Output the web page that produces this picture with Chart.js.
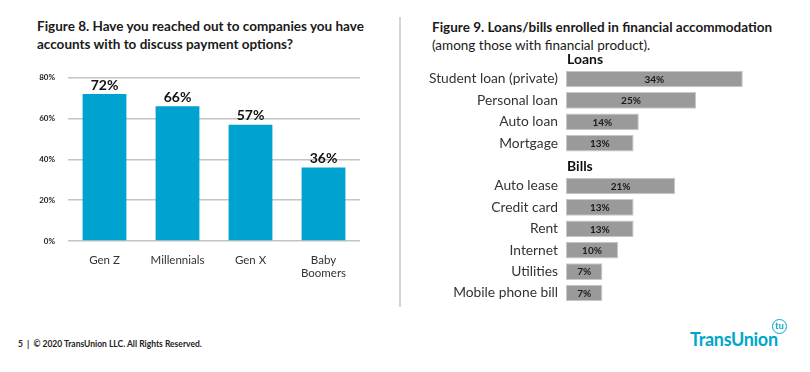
<!DOCTYPE html>
<html>
<head>
<meta charset="utf-8">
<script src="https://cdn.jsdelivr.net/npm/chart.js@4"></script>
<style>
  body { margin: 0; width: 810px; height: 372px; background: #fff; position: relative; overflow: hidden; font-family: Lato, sans-serif; color: #1a1a1a; }
  .title { position: absolute; font-weight: bold; font-size: 13.5px; line-height: 18px; }
  .sub { font-weight: normal; }
  #left-wrap { position: absolute; left: 0; top: 60px; width: 380px; height: 220px; }
  #right-wrap { position: absolute; left: 405px; top: 40px; width: 400px; height: 280px; }
  .divider { position: absolute; left: 399px; top: 17px; width: 2px; height: 290px; background: #d4d4d4; }
  .footer { position: absolute; left: 18px; top: 339px; font-size: 8.5px; font-weight: bold; color: #222; }
  .logo { position: absolute; left: 690px; top: 328px; font-size: 18px; font-weight: bold; color: #00a6ca; letter-spacing: -0.3px; }
  .tu { position: absolute; left: 772px; top: 319px; width: 13px; height: 13px; border: 1.5px solid #00a6ca; border-radius: 50%; font-size: 9px; font-weight: bold; color: #00a6ca; text-align: center; line-height: 12px; }
</style>
</head>
<body>
<div class="title" style="left:37px; top:17px;">Figure 8. Have you reached out to companies you have<br>accounts with to discuss payment options?</div>
<div class="title" style="left:432px; top:18px;">Figure 9. Loans/bills enrolled in financial accommodation<br><span class="sub">(among those with financial product).</span></div>
<div class="divider"></div>
<div id="left-wrap"><canvas id="genChart"></canvas></div>
<div id="right-wrap"><canvas id="accChart"></canvas></div>
<div class="footer">5 &nbsp;| &nbsp;© 2020 TransUnion LLC. All Rights Reserved.</div>
<div class="logo">TransUnion</div>
<div class="tu">tu</div>
<script>
// Figure 8 data
const genLabels = ['Gen Z', 'Millennials', 'Gen X', ['Baby', 'Boomers']];
const genValues = [72, 66, 57, 36];

// Figure 9 data
const loanLabels = ['Student loan (private)', 'Personal loan', 'Auto loan', 'Mortgage'];
const loanValues = [34, 25, 14, 13];
const billLabels = ['Auto lease', 'Credit card', 'Rent', 'Internet', 'Utilities', 'Mobile phone bill'];
const billValues = [21, 13, 13, 10, 7, 7];

const blue = '#00a3cf';
const gray = '#9a9a9a';

// draws the % value on each bar
const valueLabels = {
  id: 'valueLabels',
  afterDatasetsDraw(chart, args, opts) {
    const ctx = chart.ctx;
    const meta = chart.getDatasetMeta(0);
    ctx.save();
    ctx.fillStyle = opts.color;
    ctx.font = opts.font;
    ctx.textAlign = 'center';
    ctx.textBaseline = 'middle';
    meta.data.forEach((bar, i) => {
      const v = chart.data.datasets[0].data[i];
      if (v === null) return;
      if (opts.inside) {
        ctx.fillText(v + '%', (bar.x + bar.base) / 2, bar.y + 0.5);
      } else {
        ctx.fillText(v + '%', bar.x, bar.y - 9);
      }
    });
    ctx.restore();
  }
};

new Chart(document.getElementById('genChart'), {
  type: 'bar',
  data: {
    labels: genLabels,
    datasets: [{ data: genValues, backgroundColor: blue, barPercentage: 0.6, categoryPercentage: 1 }]
  },
  options: {
    responsive: true,
    maintainAspectRatio: false,
    animation: false,
    layout: { padding: { top: 9, right: 20 } },
    plugins: {
      legend: { display: false },
      tooltip: { enabled: false },
      valueLabels: { color: '#111', font: 'bold 14px Lato, sans-serif', inside: false }
    },
    scales: {
      x: {
        grid: { display: false },
        border: { display: false },
        ticks: { color: '#333', font: { size: 11.5, family: 'Lato' }, padding: 4 },
        afterFit(s) { s.height = 39; }
      },
      y: {
        min: 0, max: 80,
        ticks: { stepSize: 20, color: '#222', font: { size: 8, weight: 'bold', family: 'Lato' }, padding: 13, callback: v => v + '%' },
        grid: { color: '#c4c4c4', lineWidth: 1.5, drawTicks: false },
        border: { display: false },
        afterFit(s) { s.width = 68; }
      }
    }
  },
  plugins: [valueLabels]
});

// one slot between loans and bills for the "Bills" header
const accLabels = [...loanLabels, '', ...billLabels];
const accValues = [...loanValues, null, ...billValues];

const groupHeaders = {
  id: 'groupHeaders',
  afterDraw(chart) {
    const ctx = chart.ctx;
    const y = chart.scales.y;
    ctx.save();
    ctx.fillStyle = '#111';
    ctx.font = 'bold 14px Lato, sans-serif';
    ctx.textBaseline = 'middle';
    ctx.textAlign = 'left';
    ctx.fillText('Loans', chart.chartArea.left + 1, y.getPixelForValue(0) - 19.5);
    ctx.fillText('Bills', chart.chartArea.left + 1, y.getPixelForValue(loanLabels.length + 1) - 19.5);
    ctx.restore();
  }
};

new Chart(document.getElementById('accChart'), {
  type: 'bar',
  data: {
    labels: accLabels,
    datasets: [{ data: accValues, backgroundColor: gray, borderColor: '#c8c8c8', borderWidth: 1, borderSkipped: false, barPercentage: 0.78, categoryPercentage: 1 }]
  },
  options: {
    indexAxis: 'y',
    responsive: true,
    maintainAspectRatio: false,
    animation: false,
    layout: { padding: { top: 28.3, bottom: 15.8, right: 31 } },
    plugins: {
      legend: { display: false },
      tooltip: { enabled: false },
      valueLabels: { color: '#1a1a1a', font: 'bold 10px Lato, sans-serif', inside: true }
    },
    scales: {
      x: { display: false, min: 0, max: 40 },
      y: {
        grid: { display: false, drawTicks: false },
        border: { display: false },
        ticks: { color: '#333', font: { size: 13.8, family: 'Lato' }, padding: 8 },
        afterFit(s) { s.width = 161; }
      }
    }
  },
  plugins: [valueLabels, groupHeaders]
});
</script>
</body>
</html>
